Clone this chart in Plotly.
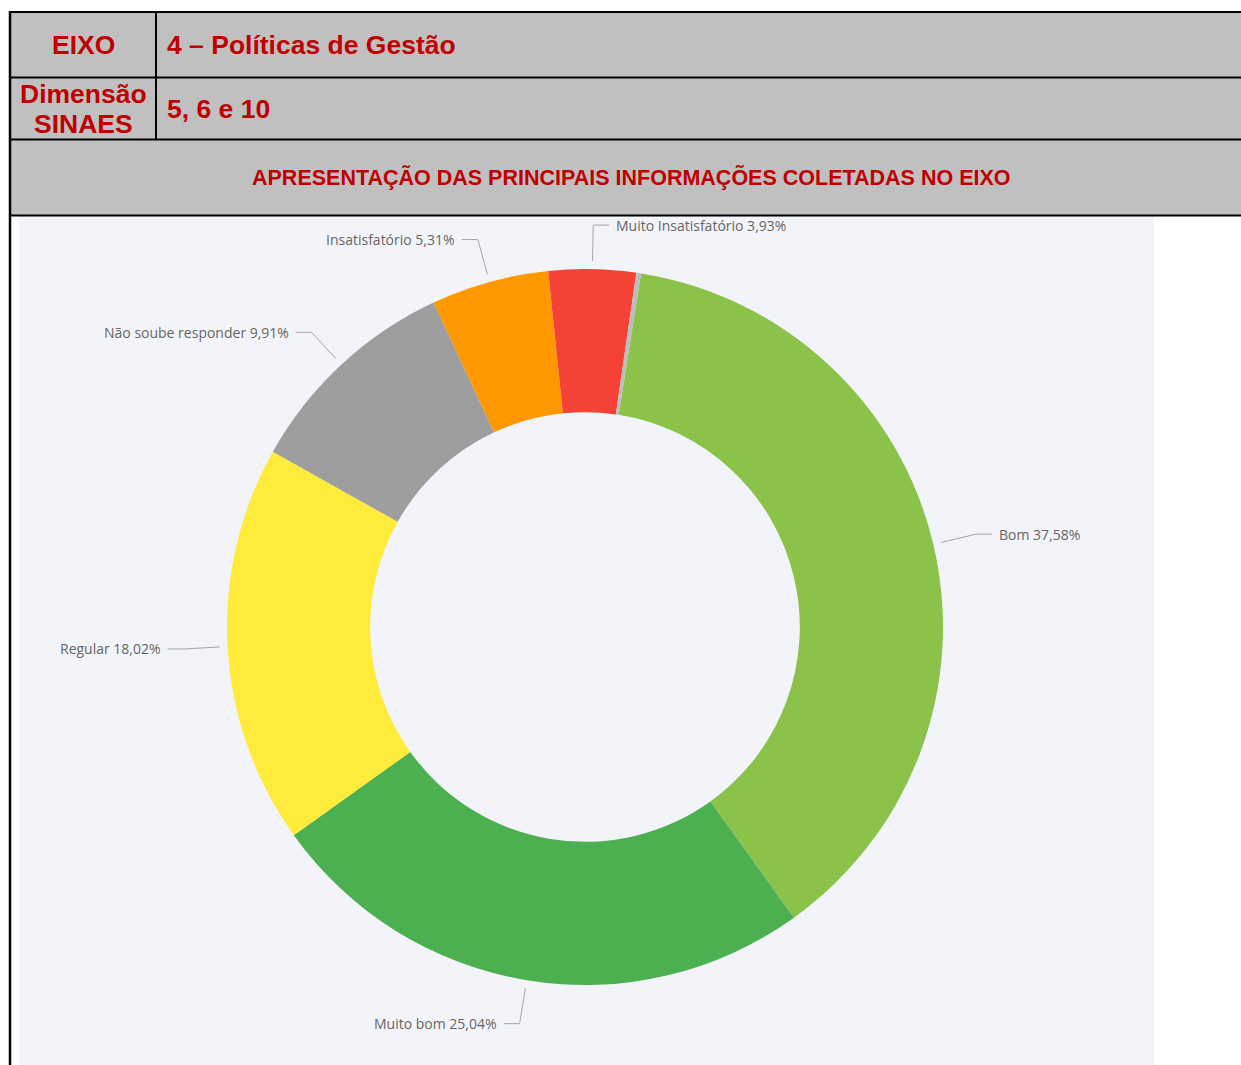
import math
import plotly.graph_objects as go

# ---------------- data ----------------
categories = ["Bom", "Muito bom", "Regular", "Não soube responder",
              "Insatisfatório", "Muito Insatisfatório", "Sem resposta"]
values = [37.58, 25.04, 18.02, 9.91, 5.31, 3.93, 0.21]
slice_colors = ["#8BC34A", "#4CAF50", "#FFEB3B", "#9E9E9E",
                "#FF9800", "#F44336", "#BDBDBD"]
show_label = [True, True, True, True, True, True, False]

header_eixo_label = "EIXO"
header_eixo_value = "4 – Políticas de Gestão"
header_dim_label_lines = ["Dimensão", "SINAES"]
header_dim_value = "5, 6 e 10"
header_title = "APRESENTAÇÃO DAS PRINCIPAIS INFORMAÇÕES COLETADAS NO EIXO"

# ---------------- layout helpers ----------------
W, H = 1241, 1065
CX, CY, R = 585, 627, 358       # pie centre / radius in pixels
ROTATION = 9                     # start angle of first slice (deg, clockwise from top)
RED = "#C00000"
GREY_CELL = "#C0C0C0"
CHART_BG = "#F3F4F9"


def px(x):
    return x / W


def py(y):
    return 1 - y / H


fig = go.Figure()

fig.add_trace(go.Pie(
    labels=categories,
    values=values,
    sort=False,
    direction="clockwise",
    rotation=ROTATION,
    hole=0.6,
    marker=dict(colors=slice_colors, line=dict(width=0)),
    textinfo="none",
    showlegend=False,
    domain=dict(x=[px(CX - R), px(CX + R)], y=[py(CY + R), py(CY - R)]),
))

shapes = []
annotations = []

# header background and chart background
shapes.append(dict(type="rect", xref="paper", yref="paper", layer="below",
                   x0=px(10), x1=px(1245), y0=py(215), y1=py(12),
                   fillcolor=GREY_CELL, line=dict(width=0)))
shapes.append(dict(type="rect", xref="paper", yref="paper", layer="below",
                   x0=px(19), x1=px(1154), y0=py(1070), y1=py(216),
                   fillcolor=CHART_BG, line=dict(width=0)))


def hline(y, x0, x1, w=2):
    shapes.append(dict(type="line", xref="paper", yref="paper",
                       x0=px(x0), x1=px(x1), y0=py(y), y1=py(y),
                       line=dict(color="black", width=w)))


def vline(x, y0, y1, w=2):
    shapes.append(dict(type="line", xref="paper", yref="paper",
                       x0=px(x), x1=px(x), y0=py(y0), y1=py(y1),
                       line=dict(color="black", width=w)))


hline(12, 9, 1245)
hline(77.5, 9, 1245)
hline(139.5, 9, 1245)
hline(215.5, 9, 1245)
vline(10, 11, 1070, 2.5)
vline(156, 11, 140)

hfont = dict(family="Liberation Sans, Arial", size=26.5, color=RED, weight="bold")
annotations += [
    dict(x=px(83), y=py(45), text=header_eixo_label, font=hfont,
         xanchor="center", yanchor="middle"),
    dict(x=px(165), y=py(45), text=header_eixo_value, font=hfont,
         xanchor="left", yanchor="middle"),
    dict(x=px(165), y=py(109), text=header_dim_value, font=hfont,
         xanchor="left", yanchor="middle"),
    dict(x=px(631), y=py(177), text=header_title,
         font=dict(family="Liberation Sans, Arial", size=21.5, color=RED, weight="bold"),
         xanchor="center", yanchor="middle"),
]
for i, line_txt in enumerate(header_dim_label_lines):
    annotations.append(dict(x=px(83), y=py(94 + 30 * i), text=line_txt, font=hfont,
                            xanchor="center", yanchor="middle"))

# leader lines and outside labels, derived from the slice angles
total = sum(values)
cum = 0.0
for cat, v, show in zip(categories, values, show_label):
    mid = math.radians(ROTATION + 360 * (cum + v / 2) / total)
    cum += v
    if not show:
        continue
    s, c = math.sin(mid), math.cos(mid)
    x1, y1 = CX + (R + 8) * s, CY - (R + 8) * c
    x2, y2 = CX + (R + 44) * s, CY - (R + 44) * c
    side = 1 if s >= 0 else -1
    x3, y3 = x2 + side * 16, y2
    shapes.append(dict(
        type="path", xref="paper", yref="paper",
        path=f"M {px(x1)},{py(y1)} L {px(x2)},{py(y2)} L {px(x3)},{py(y3)}",
        line=dict(color="#A8A8A8", width=1)))
    label = f"{cat} {v:.2f}%".replace(".", ",")
    annotations.append(dict(
        x=px(x3 + side * 5), y=py(y3), text=label,
        xanchor="left" if side > 0 else "right", yanchor="middle",
        font=dict(family="Open Sans, Noto Sans", size=14, color="#666666")))

for a in annotations:
    a.update(xref="paper", yref="paper", showarrow=False)

fig.update_layout(
    width=W, height=H,
    margin=dict(l=0, r=0, t=0, b=0),
    paper_bgcolor="white",
    plot_bgcolor="white",
    shapes=shapes,
    annotations=annotations,
)

fig.write_html(
    "out.html",
    config={"displayModeBar": False},
    post_script="document.body.style.margin='0';document.body.style.overflow='hidden';",
)
